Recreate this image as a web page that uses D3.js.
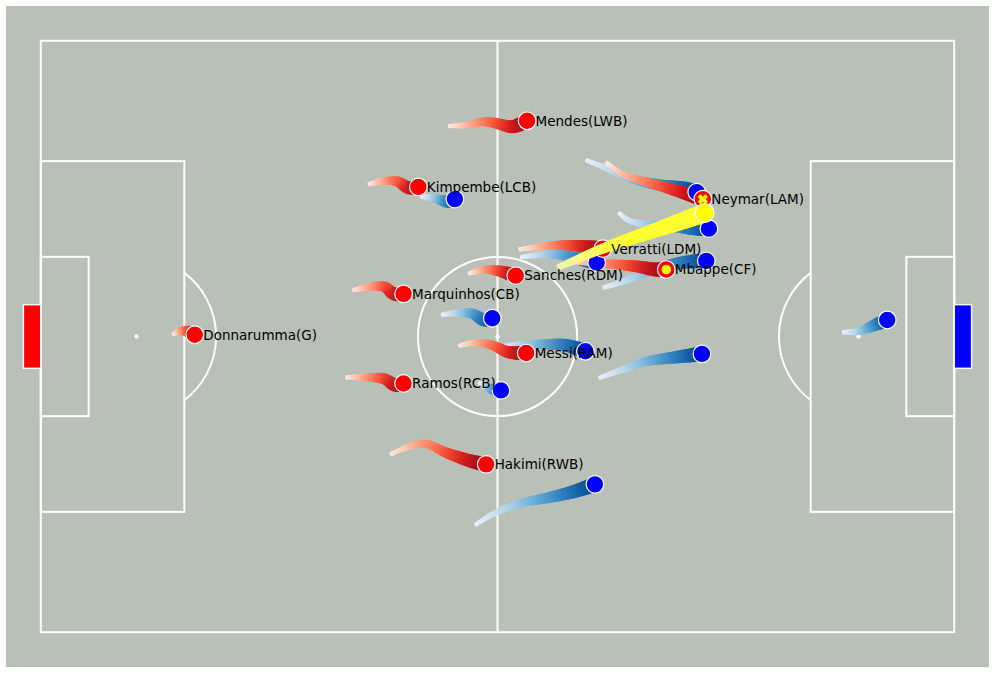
<!DOCTYPE html>
<html>
<head>
<meta charset="utf-8">
<script src="https://cdn.jsdelivr.net/npm/d3@7"></script>
<style>
  body { margin: 0; background: #fff; }
  svg { display: block; }
  text { font-family: "DejaVu Sans", sans-serif; }
</style>
</head>
<body>
<div class="chart"></div>
<script>
// Pitch size in metres (105 x 68) with 4 m padding around it
const pitchLength = 105;
const pitchWidth = 68;
const pad = 4;

// Red team: names and trails (last point = current position), in metres
const redNames = [
  "Donnarumma(G)", "Mendes(LWB)", "Kimpembe(LCB)", "Marquinhos(CB)", "Sanches(RDM)",
  "Verratti(LDM)", "Messi(RAM)", "Ramos(RCB)", "Hakimi(RWB)", "Neymar(LAM)", "Mbappe(CF)"
];
const redMarks = ["", "", "", "", "", "", "", "", "", "x", "dot"];
const redTrails = [
  [[15.1, 33.8], [16.0, 33.4], [16.9, 33.4], [17.7, 33.8]],
  [[46.8, 9.8], [48.8, 9.7], [51.1, 9.3], [52.8, 9.6], [54.2, 9.9], [55.9, 9.2]],
  [[37.6, 16.5], [39.6, 16.1], [41.1, 16.2], [42.2, 16.9], [43.4, 16.8]],
  [[35.8, 28.7], [37.8, 28.3], [39.6, 28.3], [40.5, 29.1], [41.7, 29.1]],
  [[49.1, 26.8], [51.1, 26.3], [52.8, 26.5], [54.6, 27.0]],
  [[54.9, 24.0], [57.4, 23.7], [59.7, 23.5], [62.0, 23.6], [64.6, 23.9]],
  [[48.0, 35.1], [49.9, 34.7], [51.9, 35.0], [53.7, 35.8], [55.8, 35.9]],
  [[35.0, 38.7], [37.3, 38.7], [39.6, 38.9], [40.7, 39.6], [41.7, 39.4]],
  [[40.1, 47.6], [43.9, 46.3], [46.7, 47.4], [49.7, 48.4], [51.2, 48.7]],
  [[64.9, 13.9], [66.8, 15.3], [69.5, 16.2], [72.3, 17.0], [74.6, 17.7], [76.1, 18.2]],
  [[60.3, 25.4], [63.1, 25.5], [66.0, 25.7], [68.9, 26.0], [70.6, 26.3], [71.9, 26.3]]
];

// Blue team trails (no labels)
const blueTrails = [
  [[92.1, 33.5], [94.0, 33.4], [95.6, 32.8], [97.3, 32.1]],
  [[43.6, 17.9], [45.3, 18.1], [46.7, 18.5], [47.6, 18.2]],
  [[62.6, 13.7], [64.9, 14.6], [67.7, 15.8], [71.2, 16.6], [74.1, 17.0], [75.4, 17.4]],
  [[66.4, 19.7], [67.5, 20.6], [69.5, 21.1], [72.3, 21.3], [75.2, 21.6], [76.8, 21.6]],
  [[64.6, 28.4], [66.6, 27.8], [68.9, 26.9], [71.8, 25.9], [74.6, 25.4], [76.5, 25.3]],
  [[55.1, 24.9], [57.4, 24.6], [59.7, 24.6], [62.0, 25.1], [63.9, 25.5]],
  [[46.0, 31.5], [48.0, 31.3], [49.7, 31.4], [50.9, 32.1], [51.9, 31.9]],
  [[52.2, 35.3], [54.5, 35.0], [57.4, 34.9], [60.3, 35.0], [62.6, 35.7]],
  [[64.1, 38.8], [66.6, 37.9], [69.5, 36.9], [72.9, 36.4], [76.0, 36.0]],
  [[50.3, 39.2], [51.4, 39.9], [52.9, 40.2]],
  [[49.9, 55.7], [52.2, 54.3], [55.1, 53.2], [58.5, 52.5], [61.4, 51.8], [63.7, 51.0]]
];

// Ball trail
const ballTrail = [[59.4, 26.1], [64.3, 24.0], [70.0, 22.0], [73.5, 20.8], [76.3, 19.8]];

const width = 996, height = 674;
const lineColor = "#ffffff";
const pitchColor = "#b9c0b8";

const svg = d3.select(".chart")
  .append("svg")
  .attr("width", width)
  .attr("height", height);

const x = d3.scaleLinear().domain([-pad, pitchLength + pad]).range([6, 989]);
const y = d3.scaleLinear().domain([-pad, pitchWidth + pad]).range([6, 667]);
const k = x(1) - x(0); // px per metre

// background
svg.append("rect")
  .attr("x", x(-pad)).attr("y", y(-pad))
  .attr("width", x(pitchLength + pad) - x(-pad))
  .attr("height", y(pitchWidth + pad) - y(-pad))
  .attr("fill", pitchColor);

const pitch = svg.append("g")
  .attr("fill", "none")
  .attr("stroke", lineColor)
  .attr("stroke-width", 2);

function box(x0, y0, x1, y1) {
  pitch.append("rect")
    .attr("x", x(x0)).attr("y", y(y0))
    .attr("width", x(x1) - x(x0)).attr("height", y(y1) - y(y0));
}
const mid = pitchWidth / 2;
box(0, 0, pitchLength, pitchWidth);
box(0, mid - 20.16, 16.5, mid + 20.16);
box(pitchLength - 16.5, mid - 20.16, pitchLength, mid + 20.16);
box(0, mid - 9.16, 5.5, mid + 9.16);
box(pitchLength - 5.5, mid - 9.16, pitchLength, mid + 9.16);

pitch.append("line")
  .attr("x1", x(pitchLength / 2)).attr("x2", x(pitchLength / 2))
  .attr("y1", y(0)).attr("y2", y(pitchWidth));

pitch.append("circle")
  .attr("cx", x(pitchLength / 2)).attr("cy", y(mid)).attr("r", 9.15 * k);

// penalty arcs
const arcAngle = Math.acos((16.5 - 11) / 9.15);
const arc = d3.arc().innerRadius(9.15 * k).outerRadius(9.15 * k);
pitch.append("path")
  .attr("transform", `translate(${x(11)},${y(mid)})`)
  .attr("d", arc({ startAngle: Math.PI / 2 - arcAngle, endAngle: Math.PI / 2 + arcAngle }));
pitch.append("path")
  .attr("transform", `translate(${x(pitchLength - 11)},${y(mid)})`)
  .attr("d", arc({ startAngle: -Math.PI / 2 - arcAngle, endAngle: -Math.PI / 2 + arcAngle }));

// spots
[[11, mid], [pitchLength / 2, mid], [pitchLength - 11, mid]].forEach(p => {
  svg.append("circle")
    .attr("cx", x(p[0])).attr("cy", y(p[1])).attr("r", 2.2)
    .attr("fill", lineColor);
});

// goals
svg.append("rect")
  .attr("x", x(-2)).attr("y", y(mid - 3.66))
  .attr("width", x(0) - x(-2)).attr("height", y(mid + 3.66) - y(mid - 3.66))
  .attr("fill", "red").attr("stroke", lineColor).attr("stroke-width", 1.5);
svg.append("rect")
  .attr("x", x(pitchLength)).attr("y", y(mid - 3.66))
  .attr("width", x(pitchLength + 2) - x(pitchLength)).attr("height", y(mid + 3.66) - y(mid - 3.66))
  .attr("fill", "blue").attr("stroke", lineColor).attr("stroke-width", 1.5);

// comet trail: smooth path, cut into short segments getting wider and darker
const trailLine = d3.line()
  .x(d => x(d[0]))
  .y(d => y(d[1]))
  .curve(d3.curveCatmullRom.alpha(0.5));

function drawTrail(g, pts, colorFn, w0, w1) {
  const tmp = g.append("path").attr("d", trailLine(pts)).attr("fill", "none");
  const node = tmp.node();
  const L = node.getTotalLength();
  const n = Math.max(10, Math.round(L / 1.5));
  const s = d3.range(n + 1).map(i => node.getPointAtLength(L * i / n));
  tmp.remove();
  for (let i = 0; i < n; i++) {
    const t = i / (n - 1);
    const j = Math.min(i + 2, n);
    g.append("line")
      .attr("x1", s[i].x).attr("y1", s[i].y)
      .attr("x2", s[j].x).attr("y2", s[j].y)
      .attr("stroke", colorFn(t))
      .attr("stroke-width", w0 + (w1 - w0) * t)
      .attr("stroke-linecap", "butt");
  }
}

const trails = svg.append("g");
blueTrails.forEach(p => drawTrail(trails, p, t => d3.interpolateBlues(0.08 + 0.84 * t), 4, 15));
redTrails.forEach(p => drawTrail(trails, p, t => d3.interpolateReds(0.08 + 0.84 * t), 4, 15));

// players
const dots = svg.append("g").attr("stroke", "#fff").attr("stroke-width", 1.2);
dots.selectAll(".blue").data(blueTrails).enter().append("circle")
  .attr("class", "blue")
  .attr("cx", d => x(d[d.length - 1][0]))
  .attr("cy", d => y(d[d.length - 1][1]))
  .attr("r", 8.8)
  .attr("fill", "blue");
dots.selectAll(".red").data(redTrails).enter().append("circle")
  .attr("class", "red")
  .attr("cx", d => x(d[d.length - 1][0]))
  .attr("cy", d => y(d[d.length - 1][1]))
  .attr("r", 8.8)
  .attr("fill", "red");

// highlight marks
redTrails.forEach((p, i) => {
  const cx = x(p[p.length - 1][0]), cy = y(p[p.length - 1][1]);
  if (redMarks[i] === "dot") {
    svg.append("circle").attr("cx", cx).attr("cy", cy).attr("r", 4.8).attr("fill", "yellow");
  } else if (redMarks[i] === "x") {
    svg.append("path")
      .attr("transform", `translate(${cx},${cy})`)
      .attr("d", "M-3.8,-3.8L3.8,3.8M-3.8,3.8L3.8,-3.8")
      .attr("stroke", "yellow").attr("stroke-width", 3.8);
  }
});

// ball
const ballG = svg.append("g");
drawTrail(ballG, ballTrail, t => d3.interpolateRgb("#f4f5b4", "#ffff33")(Math.min(1, t * 2.5)), 6, 19);
const ballEnd = ballTrail[ballTrail.length - 1];
ballG.append("circle")
  .attr("cx", x(ballEnd[0])).attr("cy", y(ballEnd[1])).attr("r", 9.5)
  .attr("fill", "yellow").attr("stroke", "#fff").attr("stroke-width", 1.2);

// labels
svg.append("g").selectAll("text")
  .data(redTrails)
  .enter()
  .append("text")
  .attr("x", d => x(d[d.length - 1][0]) + 8.5)
  .attr("y", d => y(d[d.length - 1][1]))
  .attr("dy", "0.36em")
  .attr("font-size", "13.5px")
  .attr("fill", "#000")
  .text((d, i) => redNames[i]);
</script>
</body>
</html>
